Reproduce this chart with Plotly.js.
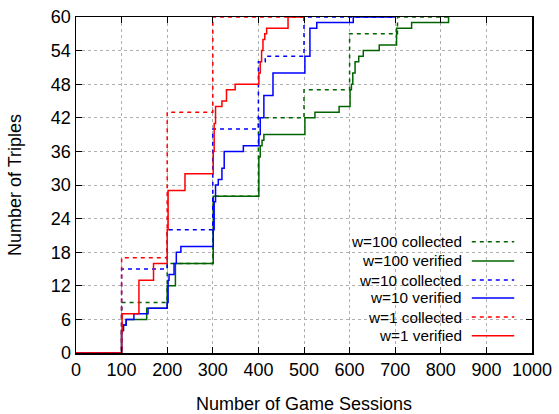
<!DOCTYPE html>
<html>
<head>
<meta charset="utf-8">
<script src="https://cdn.plot.ly/plotly-3.0.1.min.js"></script>
<style>html,body{margin:0;padding:0;background:#fff;}#chart{width:559px;height:414px;}</style>
</head>
<body>
<div id="chart"></div>
<script>
// ---- data ----
var w100CollectedX = [0, 100, 200, 300, 400, 500, 600, 705, 817];
var w100CollectedY = [0, 9, 16, 28, 42, 47, 57, 60, 60];

var w100VerifiedX = [0, 100, 104, 110, 155, 200, 218, 301, 401, 404, 408, 412, 502, 524, 577, 601, 604, 607, 612, 620, 630, 665, 703, 736, 802, 817];
var w100VerifiedY = [0, 4, 5, 6, 8, 12, 16, 28, 35, 37, 38, 39, 42, 43, 44, 47, 48, 50, 52, 53, 54, 55, 58, 59, 59, 60];

var w10CollectedX = [0, 100, 200, 300, 400, 415, 500, 700];
var w10CollectedY = [0, 15, 22, 40, 52, 53, 60, 60];

var w10VerifiedX = [0, 100, 104, 110, 127, 158, 200, 202, 204, 215, 220, 230, 301, 303, 306, 312, 320, 325, 367, 401, 404, 412, 432, 502, 513, 528, 608, 700];
var w10VerifiedY = [0, 4, 5, 6, 7, 8, 9, 13, 14, 16, 18, 19, 22, 27, 30, 31, 33, 36, 37, 39, 42, 46, 50, 53, 58, 59, 60, 60];

var w1CollectedX = [0, 100, 200, 300, 500];
var w1CollectedY = [0, 17, 43, 60, 60];

var w1VerifiedX = [0, 100, 101, 138, 170, 200, 202, 239, 301, 303, 306, 320, 330, 349, 401, 404, 407, 410, 414, 418, 465, 500];
var w1VerifiedY = [0, 4, 7, 13, 16, 22, 29, 32, 36, 41, 44, 45, 47, 48, 50, 52, 54, 56, 57, 58, 60, 60];

var seriesNames = ["w=100 collected", "w=100 verified", "w=10 collected", "w=10 verified", "w=1 collected", "w=1 verified"];
// ---------------------------------------

var GREEN = "#006400", BLUE = "#0000ff", RED = "#ff0000";
var DASH = "4px,4px";
var FONT = "Liberation Sans, Arial, sans-serif";

function tr(x, y, color, dash, name) {
  return {x: x, y: y, type: "scatter", mode: "lines", name: name,
    line: {color: color, width: 1.5, dash: dash, shape: "hv"},
    showlegend: false, hoverinfo: "x+y"};
}

var traces = [
  tr(w100CollectedX, w100CollectedY, GREEN, DASH, seriesNames[0]),
  tr(w100VerifiedX, w100VerifiedY, GREEN, "solid", seriesNames[1]),
  tr(w10CollectedX, w10CollectedY, BLUE, DASH, seriesNames[2]),
  tr(w10VerifiedX, w10VerifiedY, BLUE, "solid", seriesNames[3]),
  tr(w1CollectedX, w1CollectedY, RED, DASH, seriesNames[4]),
  tr(w1VerifiedX, w1VerifiedY, RED, "solid", seriesNames[5])
];

// custom gnuplot-style key: text on the left, sample on the right
var keyColors = [GREEN, GREEN, BLUE, BLUE, RED, RED];
var keyDash = [DASH, "solid", DASH, "solid", DASH, "solid"];
var keyRows = [0.331, 0.274, 0.217, 0.164, 0.107, 0.051];
var shapes = [{type: "rect", xref: "paper", yref: "paper", x0: 0.575, x1: 0.997, y0: 0.003, y1: 0.357,
  fillcolor: "#ffffff", line: {width: 0}, layer: "between"}];
var annotations = [];
for (var i = 0; i < seriesNames.length; i++) {
  annotations.push({xref: "paper", yref: "paper", x: 0.851, y: keyRows[i], xanchor: "right", yanchor: "middle",
    text: seriesNames[i], showarrow: false, font: {family: FONT, size: 15.3, color: "#000"}});
  shapes.push({type: "line", xref: "paper", yref: "paper", x0: 0.868, x1: 0.961, y0: keyRows[i], y1: keyRows[i],
    line: {color: keyColors[i], width: 1.5, dash: keyDash[i]}, layer: "above"});
}

var axisCommon = {
  showline: true, linecolor: "#000", linewidth: 1.5, mirror: "ticks",
  ticks: "inside", ticklen: 6, tickwidth: 1, tickcolor: "#000",
  showgrid: true, gridcolor: "#b0b0b0", gridwidth: 1, griddash: "dot",
  zeroline: false, tickfont: {family: FONT, size: 18, color: "#000"}
};

var layout = {
  width: 559, height: 414,
  margin: {l: 76, r: 27, t: 17, b: 61},
  paper_bgcolor: "#fff", plot_bgcolor: "#fff",
  showlegend: false,
  xaxis: Object.assign({}, axisCommon, {range: [0, 1000], tickmode: "linear", tick0: 0, dtick: 100,
    title: {text: "Number of Game Sessions", font: {family: FONT, size: 18, color: "#000"}, standoff: 22}}),
  yaxis: Object.assign({}, axisCommon, {range: [0, 60], tickmode: "linear", tick0: 0, dtick: 6,
    title: {text: "Number of Triples", font: {family: FONT, size: 18, color: "#000"}, standoff: 24}}),
  shapes: shapes,
  annotations: annotations
};

Plotly.newPlot("chart", traces, layout, {displayModeBar: false, staticPlot: true});
</script>
</body>
</html>
